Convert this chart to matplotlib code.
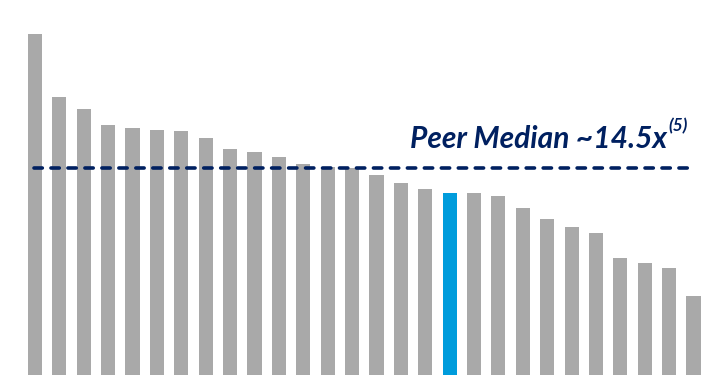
import matplotlib.pyplot as plt

# Data (multiples)
values = [23.9, 19.5, 18.6, 17.5, 17.3, 17.15, 17.1, 16.6, 15.8, 15.65,
          15.25, 14.8, 14.6, 14.5, 14.0, 13.45, 13.0, 12.75, 12.75, 12.55,
          11.7, 10.9, 10.35, 9.95, 8.2, 7.85, 7.5, 5.5]
highlight = 17  # index of the blue bar
median = 14.5
label = "Peer Median ~14.5x"
note = "(5)"

gray = "#A9A9A9"
blue = "#009CDC"
navy = "#002060"

colors = [blue if i == highlight else gray for i in range(len(values))]

fig = plt.figure(figsize=(7.15, 3.75), dpi=100)
ax = fig.add_axes([0, 0, 1, 1])

x = range(len(values))
ax.bar(x, values, width=0.58, color=colors, edgecolor="none")

# median line
ax.axhline(median, xmin=0.047, xmax=0.966, color=navy, linewidth=2.6,
           linestyle=(0, (2.3, 2.4)), dash_capstyle="round")

ax.text(25.92, 15.9, label, ha="right", va="baseline", color=navy,
        fontsize=21.5, fontweight="bold", fontstyle="italic", family="Lato")
ax.text(25.97, 17.05, note, ha="left", va="baseline", color=navy,
        fontsize=12.5, fontweight="bold", fontstyle="italic", family="Lato")

ax.set_xlim(-1.435, 27.88)
ax.set_ylim(0, 26.27)
ax.axis("off")

fig.savefig("out.png", dpi=100)
